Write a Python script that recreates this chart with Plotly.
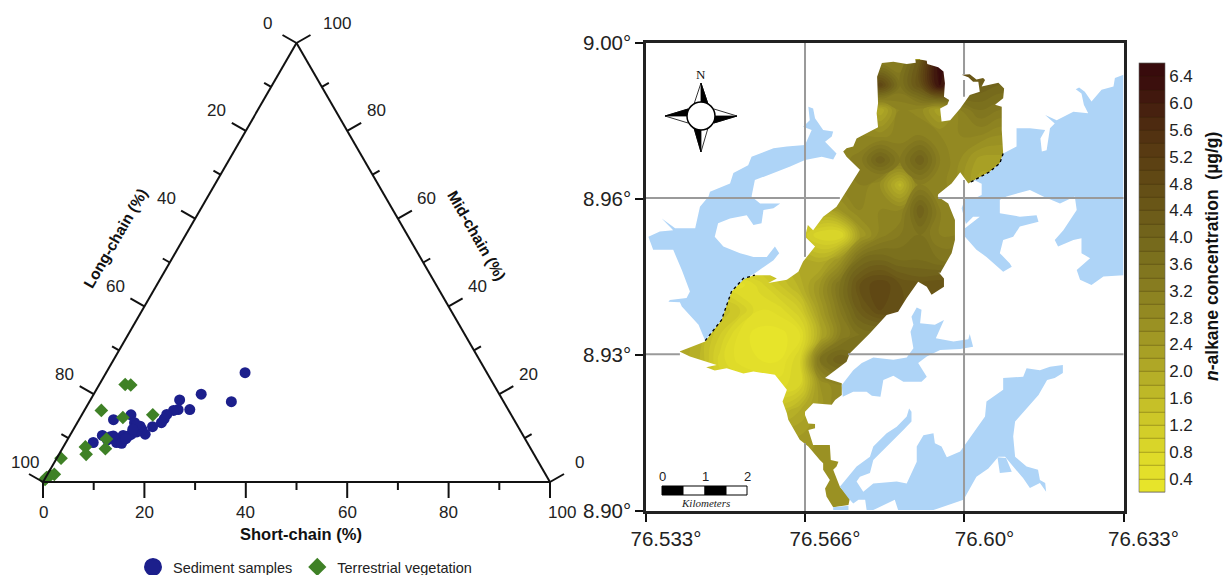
import plotly.graph_objects as go

W, H = 1223, 575
FONT = "Liberation Sans"

def P(x, y):
    return x / W, 1 - y / H

# --- ternary data (percent) ---
sed_short = [27.4,21.2,28.0,17.6,20.7,18.4,17.6,16.7,16.7,16.6,15.3,14.7,9.7,6.8,11.3,12.6,13.5,12.8,12.0,10.5,11.6,11.1,10.5,9.3,8.1,6.4,5.4,10.0,11.1,11.4,8.6,7.9,12.8,11.9,11.7]
sed_mid = [24.9,20.0,18.3,18.7,16.5,16.5,16.3,15.4,14.4,13.5,12.6,10.9,15.3,14.2,13.5,12.5,12.0,11.4,10.9,10.6,10.5,9.7,9.3,9.7,10.3,10.6,9.0,9.0,8.8,9.9,10.5,9.6,12.7,12.9,12.0]
veg_short = [5.1,6.25,3.35,8.4,14.0,7.6,8.5,4.35,5.35,0.85,1.35,0.65,0.2,0.1]
veg_mid = [22.2,22.1,16.3,14.7,15.3,9.8,7.6,8.0,6.3,5.4,1.75,1.5,1.0,0.6]
sed_long = [100 - a - b for a, b in zip(sed_short, sed_mid)]
veg_long = [100 - a - b for a, b in zip(veg_short, veg_mid)]

# --- concentration field ---
conc_levels = dict(start=0.2, end=6.6, size=0.2)
conc_ticks = [0.4,0.8,1.2,1.6,2.0,2.4,2.8,3.2,3.6,4.0,4.4,4.8,5.2,5.6,6.0,6.4]
conc_colors = [[0,"#e9e62a"],[0.1,"#dcd829"],[0.2,"#c8c228"],[0.3,"#b0a926"],[0.45,"#908622"],[0.6,"#75691c"],[0.72,"#655016"],[0.82,"#583b12"],[0.92,"#47210f"],[1,"#380b0c"]]
grid_lon = [76.5401,76.5443,76.5485,76.5527,76.5569,76.5611,76.5653,76.5694,76.5736,76.5778,76.5820,76.5862,76.5904,76.5946,76.5988,76.6029,76.6071,76.6113]
grid_lat = [8.9964,8.9910,8.9857,8.9803,8.9750,8.9697,8.9643,8.9590,8.9536,8.9483,8.9429,8.9376,8.9323,8.9269,8.9216,8.9162,8.9109,8.9056,8.9002]
conc = [
[3,3,3,3,3,3,3,3,3,3,3.0,3.2,4.4,6.6,5.0,4.6,4.4,4.4],
[3,3,3,3,3,3,3,3,3,3.4,5.0,3.6,4.6,6.4,4.6,4.2,4.0,4.0],
[3,3,3,3,3,3,3,3,3,3,2.0,3.0,2.9,2.2,3.2,3.6,3.4,3.4],
[3,3,3,3,3,3,3,3,3,3,2.9,3.1,3.2,3.0,3.0,3.0,2.8,2.8],
[3.1,3.1,3.1,3.1,3.1,3.1,3.1,3.1,3.1,3.3,4.2,3.4,4.2,3.2,2.8,2.3,2.3,2.3],
[3.1,3.1,3.1,3.1,3.1,3.1,3.1,3.1,3.1,3.2,2.8,1.7,3.2,3.1,2.8,2.1,2.1,2.1],
[2.4,2.4,2.4,2.4,2.4,2.4,2.4,2.2,2.6,3.0,3.0,3.0,4.2,3.2,3,3,3,3],
[1.8,1.8,1.8,1.8,1.8,1.6,1.4,.8,.7,2.4,3.1,3.4,3.6,3.2,3.2,3.2,3.2,3.2],
[1.6,1.6,1.6,1.8,1.6,1.7,2,1.9,2.6,3.8,4,3.8,3.8,3.6,3.6,3.6,3.6,3.6],
[1.2,1.2,.8,.5,.9,1.4,1.9,2.6,3.6,4.6,5,4.6,4.4,4.6,4.6,4.6,4.6,4.6],
[1.6,1.6,1.6,1.2,.6,.7,1.2,2.4,3.4,4.3,4.8,4.6,4.4,4.4,4.4,4.4,4.4,4.4],
[2.2,1.8,1.2,.5,.3,.3,.6,2.0,3.2,3.6,3.6,3.6,3.6,3.6,3.6,3.6,3.6,3.6],
[2.2,1.8,.9,.5,.4,.4,1.0,3.6,4.2,3.8,3.8,3.8,3.8,3.8,3.8,3.8,3.8,3.8],
[2,2,1.2,1,.8,.7,1.0,2.6,3.0,3,3,3,3,3,3,3,3,3],
[1.6,1.6,1.6,1.6,1.6,1.6,2.0,2.5,3,3,3,3,3,3,3,3,3,3],
[2.4,2.4,2.4,2.4,2.4,2.4,2.4,2.6,2.8,2.8,2.8,2.8,2.8,2.8,2.8,2.8,2.8,2.8],
[2.6,2.6,2.6,2.6,2.6,2.6,2.6,2.8,2.8,2.8,2.8,2.8,2.8,2.8,2.8,2.8,2.8,2.8],
[2.7]*18,
[2.6]*18,
]

# --- outlines (degrees) ---
study_lon = [76.5824,76.5848,76.5876,76.5895,76.5893,76.5902,76.5904,76.5918,76.5919,76.5942,76.5953,76.5956,76.5954,76.5965,76.5961,76.5946,76.5949,76.5967,76.5988,76.6008,76.6029,76.6026,76.6015,76.6005,76.5991,76.6008,76.6022,76.6036,76.6040,76.6033,76.6047,76.6068,76.6080,76.6078,76.6061,76.6075,76.6075,76.6078,76.6071,76.6050,76.6005,76.5988,76.5970,76.5942,76.5941,76.5963,76.5977,76.5977,76.5970,76.5946,
 76.5942,76.5954,76.5954,76.5928,76.5918,76.5900,76.5876,76.5858,76.5834,76.5799,76.5757,76.5750,76.5705,76.5740,76.5740,76.5726,76.5719,76.5680,76.5663,76.5663,76.5670,76.5684,76.5684,76.5670,76.5680,76.5715,76.5717,76.5733,76.5729,76.5722,76.5736,76.5757,76.5754,76.5722,76.5708,76.5705,76.5715,76.5701,76.5701,76.5694,76.5670,76.5652,76.5628,76.5625,76.5616,76.5625,76.5600,76.5555,76.5534,76.5499,76.5474,76.5456,76.5478,76.5422,76.5400,76.5454,76.5474,76.5488,76.5509,76.5534,76.5558,76.5590,76.5604,76.5586,76.5625,76.5649,
 76.5659,76.5684,76.5663,76.5669,76.5680,76.5694,76.5701,76.5729,76.5743,76.5764,76.5778,76.5750,76.5743,76.5750,76.5764,76.5771,76.5792,76.5816,76.5813,76.5816,76.5814]
study_lat = [8.9957,8.9960,8.9955,8.9958,8.9972,8.9975,8.9965,8.9962,8.9955,8.9948,8.9939,8.9914,8.9885,8.9878,8.9868,8.9860,8.9832,8.9835,8.9860,8.9889,8.9896,8.9917,8.9917,8.9927,8.9932,8.9933,8.9922,8.9925,8.9921,8.9907,8.9910,8.9915,8.9903,8.9882,8.9868,8.9864,8.9814,8.9764,8.9743,8.9725,8.9700,8.9724,8.9700,8.9677,8.9672,8.9657,8.9622,8.9579,8.9551,8.9508,
 8.9511,8.9497,8.9479,8.9462,8.9479,8.9490,8.9455,8.9426,8.9419,8.9380,8.9337,8.9319,8.9284,8.9273,8.9248,8.9237,8.9227,8.9230,8.9212,8.9205,8.9187,8.9186,8.9177,8.9173,8.9141,8.9141,8.9109,8.9105,8.9095,8.9088,8.9052,8.9027,8.9013,8.9008,8.9031,8.9048,8.9066,8.9088,8.9102,8.9109,8.9138,8.9152,8.9195,8.9209,8.9234,8.9259,8.9291,8.9298,8.9294,8.9305,8.9300,8.9307,8.9312,8.9330,8.9341,8.9362,8.9390,8.9408,8.9469,8.9497,8.9504,8.9504,8.9497,8.9487,8.9494,8.9511,
 8.9533,8.9565,8.9586,8.9611,8.9600,8.9618,8.9629,8.9650,8.9672,8.9707,8.9729,8.9757,8.9768,8.9775,8.9779,8.9796,8.9807,8.9820,8.9850,8.9871,8.9928]

lake_w_lon = [76.5335,76.5359,76.5387,76.5363,76.5391,76.5433,76.5443,76.5461,76.5464,76.5506,76.5513,76.5544,76.5551,76.5597,76.5625,76.5663,76.5677,76.5659,76.5673,76.5670,76.5680,76.5684,76.5701,76.5722,76.5719,76.5705,76.5729,76.5722,76.5698,76.5663,76.5632,76.5597,76.5558,76.5551,76.5569,76.5611,76.5597,76.5576,76.5572,76.5555,76.5541,76.5506,76.5481,76.5474,76.5492,76.5527,76.5555,76.5583,76.5600,76.5609,76.5597,76.5558,76.5534,76.5509,76.5488,76.5454,76.5440,76.5405,76.5401,76.5377,76.5380,76.5415,76.5422,76.5405,76.5387,76.5345]
lake_w_lat = [8.9586,8.9597,8.9600,8.9625,8.9604,8.9604,8.9650,8.9672,8.9682,8.9700,8.9722,8.9739,8.9757,8.9775,8.9779,8.9782,8.9814,8.9821,8.9835,8.9864,8.9860,8.9839,8.9814,8.9811,8.9800,8.9789,8.9764,8.9751,8.9757,8.9750,8.9736,8.9722,8.9707,8.9672,8.9657,8.9657,8.9647,8.9643,8.9615,8.9611,8.9632,8.9625,8.9615,8.9586,8.9565,8.9551,8.9543,8.9543,8.9565,8.9551,8.9536,8.9508,8.9494,8.9469,8.9408,8.9364,8.9398,8.9437,8.9446,8.9447,8.9451,8.9455,8.9469,8.9515,8.9558,8.9558]

lake_c_lon = [76.5740,76.5764,76.5782,76.5806,76.5848,76.5876,76.5890,76.5884,76.5890,76.5886,76.5897,76.5907,76.5904,76.5935,76.5954,76.5946,76.5937,76.5974,76.6005,76.6008,76.6015,76.5988,76.5946,76.5918,76.5900,76.5918,76.5907,76.5869,76.5848,76.5827,76.5821,76.5803,76.5792,76.5764,76.5742]
lake_c_lat = [8.9269,8.9301,8.9316,8.9328,8.9323,8.9328,8.9348,8.9383,8.9398,8.9415,8.9435,8.9430,8.9401,8.9398,8.9408,8.9390,8.9369,8.9362,8.9367,8.9378,8.9351,8.9346,8.9344,8.9330,8.9316,8.9287,8.9276,8.9276,8.9289,8.9280,8.9244,8.9246,8.9255,8.9255,8.9244]

lake_se_lon = [76.5736,76.5771,76.5799,76.5806,76.5834,76.5855,76.5876,76.5881,76.5886,76.5886,76.5869,76.5848,76.5806,76.5799,76.5778,76.5771,76.5785,76.5806,76.5855,76.5876,76.5897,76.5897,76.5911,76.5932,76.5935,76.5949,76.5960,76.5988,76.6005,76.6040,76.6043,76.6078,76.6078,76.6120,76.6127,76.6155,76.6176,76.6203,76.6203,76.6186,76.6170,76.6152,76.6134,76.6103,76.6099,76.6103,76.6127,76.6151,76.6155,76.6166,76.6168,76.6155,76.6134,76.6120,76.6099,76.6082,76.6068,76.6047,76.6022,76.5995,76.5932,76.5858,76.5851,76.5806,76.5792,76.5789,76.5775,76.5764,76.5754]
lake_se_lat = [8.9052,8.9095,8.9116,8.9138,8.9166,8.9180,8.9202,8.9219,8.9212,8.9191,8.9173,8.9152,8.9109,8.9081,8.9073,8.9063,8.9041,8.9059,8.9063,8.9059,8.9105,8.9138,8.9162,8.9166,8.9145,8.9138,8.9115,8.9127,8.9152,8.9202,8.9234,8.9259,8.9284,8.9287,8.9305,8.9301,8.9308,8.9312,8.9295,8.9284,8.9280,8.9248,8.9227,8.9191,8.9159,8.9116,8.9095,8.9088,8.9066,8.9060,8.9041,8.9060,8.9049,8.9070,8.9095,8.9116,8.9116,8.9091,8.9073,8.9024,8.9002,8.9002,8.9024,8.9002,8.9002,8.9024,8.9024,8.9016,8.9027]

lake_sb_lon = [76.5722,76.5754,76.5754,76.5722]
lake_sb_lat = [8.9008,8.9011,8.9002,8.9002]
lake_isl_lon = [76.6066,76.6071,76.6096,76.6084]
lake_isl_lat = [8.9115,8.9081,8.9084,8.9113]

lake_ne_lon = [76.6330,76.6312,76.6309,76.6284,76.6263,76.6249,76.6237,76.6230,76.6242,76.6247,76.6256,76.6225,76.6190,76.6166,76.6186,76.6176,76.6169,76.6159,76.6156,76.6166,76.6134,76.6106,76.6106,76.6078,76.6071,76.6050,76.6005,76.6019,76.6033,76.6033,76.6022,76.5998,76.5991,76.6000,76.6015,76.6029,76.5998,76.5998,76.6022,76.6043,76.6078,76.6096,76.6092,76.6071,76.6078,76.6099,76.6113,76.6152,76.6148,76.6113,76.6071,76.6071,76.6085,76.6134,76.6162,76.6197,76.6228,76.6232,76.6204,76.6186,76.6193,76.6225,76.6242,76.6242,76.6260,76.6232,76.6239,76.6263,76.6288,76.6330]
lake_ne_lat = [8.9932,8.9925,8.9907,8.9900,8.9875,8.9896,8.9905,8.9901,8.9892,8.9868,8.9850,8.9853,8.9835,8.9846,8.9828,8.9818,8.9771,8.9768,8.9796,8.9814,8.9818,8.9818,8.9779,8.9764,8.9743,8.9725,8.9700,8.9706,8.9699,8.9675,8.9670,8.9666,8.9647,8.9613,8.9629,8.9629,8.9604,8.9586,8.9558,8.9543,8.9511,8.9522,8.9529,8.9551,8.9579,8.9586,8.9608,8.9618,8.9632,8.9629,8.9636,8.9665,8.9672,8.9686,8.9672,8.9657,8.9672,8.9643,8.9600,8.9579,8.9565,8.9579,8.9583,8.9551,8.9540,8.9515,8.9494,8.9483,8.9501,8.9504]

shore_w_lon = [76.5454,76.5475,76.5488,76.5509,76.5534,76.5558]
shore_w_lat = [8.9364,8.9390,8.9408,8.9469,8.9497,8.9504]
shore_e_lon = [76.6078,76.6071,76.6050,76.6005]
shore_e_lat = [8.9764,8.9743,8.9725,8.9700]

grid_x = [76.5663,76.5663,None,76.5663,76.5663,None,76.5996,76.5996,None,76.5996,76.5996,None,76.5996,76.5996,None,76.5330,76.5736,None,76.5942,76.6331,None,76.5330,76.5401,None,76.5753,76.6331,None]
grid_y = [9.0000,8.9543,None,8.9145,8.9000,None,9.0000,8.9932,None,8.9921,8.9885,None,8.9707,8.9000,None,8.9669,8.9669,None,8.9669,8.9669,None,8.9335,8.9335,None,8.9335,8.9335,None]

LON0, LON1, LAT0, LAT1 = 76.533, 76.633, 8.90, 9.00
PX0, PX1, PY0, PY1 = 646, 1123.5, 511, 43
lon_ticks = [76.533, 76.5663, 76.5997, 76.633]
lon_text = ["76.533°", "76.566°", "76.60°", "76.633°"]
lat_ticks = [8.90, 8.9333, 8.9667, 9.00]
lat_text = ["8.90°", "8.93°", "8.96°", "9.00°"]

fig = go.Figure()
BLUE, GREEN = "#1c1f8c", "#3f8126"

fig.add_trace(go.Scatterternary(a=sed_mid, b=sed_long, c=sed_short, mode="markers", showlegend=False, cliponaxis=False,
    marker=dict(symbol="circle", size=11, color=BLUE)))
fig.add_trace(go.Scatterternary(a=veg_mid, b=veg_long, c=veg_short, mode="markers", showlegend=False, cliponaxis=False,
    marker=dict(symbol="diamond", size=10.5, color=GREEN)))
fig.add_trace(go.Scatterternary(a=[None], b=[None], c=[None], mode="markers", name="Sediment samples",
    marker=dict(symbol="circle", size=16, color=BLUE, line=dict(width=2, color=BLUE))))
fig.add_trace(go.Scatterternary(a=[None], b=[None], c=[None], mode="markers", name="Terrestrial vegetation",
    marker=dict(symbol="diamond", size=14, color=GREEN)))

fig.add_trace(go.Contour(x=grid_lon, y=grid_lat, z=conc, xaxis="x", yaxis="y", showlegend=False, hoverinfo="skip",
    zmin=0.2, zmax=6.6, contours=dict(coloring="fill", showlines=True, **conc_levels), autocontour=False, colorscale=conc_colors,
    line=dict(width=0.6, color="rgba(40,25,0,0.5)", smoothing=1.3),
    colorbar=dict(x=1139/W, xanchor="left", y=1-492/H, yanchor="bottom", len=429, lenmode="pixels", thickness=26, thicknessmode="pixels",
        xpad=0, ypad=0, tickmode="array", tickvals=conc_ticks, ticktext=[f"{v:.1f}" for v in conc_ticks], ticks="", outlinewidth=0.6, outlinecolor="#666",
        tickfont=dict(family=FONT, size=17, color="#222"))))
fig.add_trace(go.Contour(x=grid_lon, y=grid_lat, z=conc, xaxis="x", yaxis="y", showlegend=False, showscale=False, hoverinfo="skip",
    zmin=0.2, zmax=6.6, contours=dict(coloring="fill", showlines=False, **conc_levels), autocontour=False, colorscale=conc_colors,
    line=dict(width=0, smoothing=1.3)))

mask_x = [LON0, LON0, LON1, LON1, LON0, None] + study_lon + [study_lon[0]]
mask_y = [LAT1, LAT0, LAT0, LAT1, LAT1, None] + study_lat + [study_lat[0]]
fig.add_trace(go.Scatter(x=mask_x, y=mask_y, mode="lines", line=dict(width=0), fill="toself", fillcolor="white", showlegend=False, hoverinfo="skip"))
WATER = "#aed4f7"
for lx_, ly_ in [(lake_w_lon, lake_w_lat), (lake_c_lon, lake_c_lat), (lake_se_lon, lake_se_lat), (lake_sb_lon, lake_sb_lat), (lake_isl_lon, lake_isl_lat), (lake_ne_lon, lake_ne_lat)]:
    fig.add_trace(go.Scatter(x=lx_, y=ly_, mode="lines", line=dict(width=0), fill="toself", fillcolor=WATER, showlegend=False, hoverinfo="skip"))
for lx_, ly_ in [(shore_w_lon, shore_w_lat), (shore_e_lon, shore_e_lat)]:
    fig.add_trace(go.Scatter(x=lx_, y=ly_, mode="lines", line=dict(width=1.3, color="black", dash="dot"), showlegend=False, hoverinfo="skip"))
fig.add_trace(go.Scatter(x=grid_x, y=grid_y, mode="lines", line=dict(width=2, color="#9a9a9a"), showlegend=False, hoverinfo="skip"))

tern_axis = lambda: dict(min=0, ticks="", showticklabels=False, showline=True, linewidth=2, linecolor="#111", showgrid=False, title=dict(text=""))

shapes = []
def line_shape(x0, y0, x1, y1, w=2, c="#111"):
    a, b = P(x0, y0); d, e = P(x1, y1)
    shapes.append(dict(type="line", xref="paper", yref="paper", x0=a, y0=b, x1=d, y1=e, line=dict(color=c, width=w)))
def poly_shape(pts, fill="black", lw=0.8):
    q = [P(a, b) for a, b in pts]
    path = "M" + " L".join(f"{a:.5f},{b:.5f}" for a, b in q) + " Z"
    shapes.append(dict(type="path", xref="paper", yref="paper", path=path, fillcolor=fill, line=dict(color="black", width=lw)))
def rect_shape(x0, y0, x1, y1, fill):
    a, b = P(x0, y0); d, e = P(x1, y1)
    shapes.append(dict(type="rect", xref="paper", yref="paper", x0=a, y0=b, x1=d, y1=e, fillcolor=fill, line=dict(color="black", width=1)))

def ann(text, x, y, size=17, bold=False, angle=0, family=FONT, color="#222", italic=False):
    a, b = P(x, y)
    if bold: text = f"<b>{text}</b>"
    if italic: text = f"<i>{text}</i>"
    return dict(text=text, x=a, y=b, xref="paper", yref="paper", xanchor="center", yanchor="middle", showarrow=False, textangle=angle,
                font=dict(family=family, size=size, color=color))

annotations = []
TL, TR, TT = (43, 482), (550, 482), (296.5, 43)
for v in range(0, 101, 10):
    t = v / 100
    major = v % 20 == 0
    k = 1 if major else 0.5
    bx = TL[0] + t*(TR[0]-TL[0])
    line_shape(bx, 482, bx, 482 + 16*k)
    lx = TT[0] + t*(TL[0]-TT[0]); ly = TT[1] + t*(TL[1]-TT[1])
    line_shape(lx, ly, lx - 14*k, ly - 8*k)
    rx = TR[0] + t*(TT[0]-TR[0]); ry = TR[1] + t*(TT[1]-TR[1])
    line_shape(rx, ry, rx + 14*k, ry - 8*k)
    if major:
        annotations.append(ann(str(v), bx + (12 if v == 100 else 0), 512))
        annotations.append(ann(str(v), lx - (17.5 if v == 100 else 29), ly - 20))
        annotations.append(ann(str(v), rx + (40 if v == 100 else 29), ry - 20))

cx, cy = 701, 116
poly_shape([(cx,83),(cx-7,104),(cx,110),(cx+7,104)], "white")
poly_shape([(cx,83),(cx+7,104),(cx,110)], "black")
poly_shape([(cx,152),(cx-7,128),(cx,122),(cx+7,128)], "white")
poly_shape([(cx,152),(cx-7,128),(cx,122)], "black")
poly_shape([(665,cy),(688,cy-7),(695,cy),(688,cy+7)], "white")
poly_shape([(665,cy),(688,cy-7),(695,cy)], "black")
poly_shape([(737,cy),(714,cy-7),(707,cy),(714,cy+7)], "white")
poly_shape([(737,cy),(714,cy+7),(707,cy)], "black")
a0, b0 = P(cx-14, cy-14); a1, b1 = P(cx+14, cy+14)
shapes.append(dict(type="circle", xref="paper", yref="paper", x0=a0, y0=b0, x1=a1, y1=b1, fillcolor="white", line=dict(color="black", width=1.5)))
for i, (x0, x1) in enumerate([(662,683),(683,705),(705,726),(726,747)]):
    rect_shape(x0, 486, x1, 495, "black" if i % 2 == 0 else "white")

annotations += [
    ann("Short-chain (%)", 301, 534, 16.5, True, color="#111"),
    ann("Long-chain (%)", 115, 238, 15.5, True, -60, color="#111"),
    ann("Mid-chain (%)", 477, 235, 15.5, True, 60, color="#111"),
    ann("N", 701, 74, 13, False, family="Liberation Serif", color="#111"),
    ann("0", 662, 476, 13),
    ann("1", 705, 476, 13),
    ann("2", 747, 476, 13),
    ann("Kilometers", 705, 503, 11, False, family="Liberation Serif", italic=True, color="#222"),
    ann("<b><i>n</i>-alkane concentration  (µg/g)</b>", 1212, 257, 17.5, False, -90, color="#111"),
]

dx0, dy0 = P(43, 482); dx1, dy1 = P(550, 43)
fig.update_layout(
    width=W, height=H, margin=dict(l=0, r=0, t=0, b=0, autoexpand=False), paper_bgcolor="white", plot_bgcolor="white",
    ternary=dict(domain=dict(x=[dx0, dx1], y=[dy0, dy1]), sum=100, bgcolor="white", aaxis=tern_axis(), baxis=tern_axis(), caxis=tern_axis()),
    xaxis=dict(domain=[PX0/W, PX1/W], range=[LON0, LON1], tickmode="array", tickvals=lon_ticks, ticktext=lon_text, ticks="outside", ticklen=8, tickwidth=1.5, tickcolor="#111",
               showline=True, mirror=True, linewidth=2.5, linecolor="#222", showgrid=False, zeroline=False, ticklabelshift=20,
               tickfont=dict(family=FONT, size=20.5, color="#222")),
    yaxis=dict(domain=[1-PY0/H, 1-PY1/H], range=[LAT0, LAT1], tickmode="array", tickvals=lat_ticks, ticktext=lat_text, ticks="outside", ticklen=8, tickwidth=1.5, tickcolor="#111",
               showline=True, mirror=True, linewidth=2.5, linecolor="#222", showgrid=False, zeroline=False,
               tickfont=dict(family=FONT, size=20.5, color="#222")),
    legend=dict(orientation="h", x=133/W, xanchor="left", y=1-567/H, yanchor="middle", itemwidth=30, font=dict(family=FONT, size=14.5, color="#222"),
                bgcolor="rgba(0,0,0,0)", traceorder="normal"),
    shapes=shapes, annotations=annotations,
)
fig.write_html("out.html", post_script="document.body.style.margin='0';", config={"displayModeBar": False})
